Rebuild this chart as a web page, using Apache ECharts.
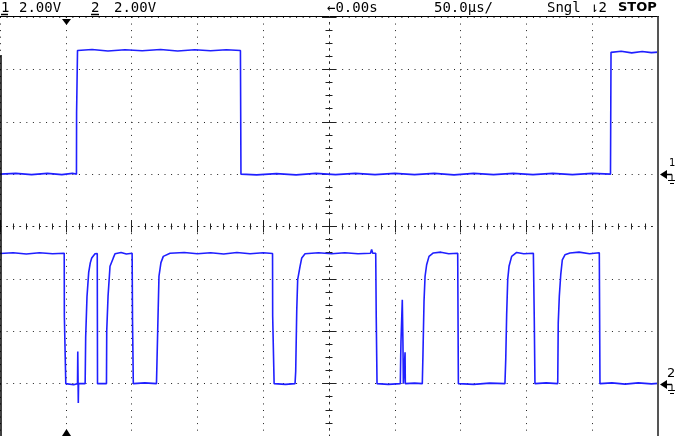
<!DOCTYPE html>
<html>
<head>
<meta charset="utf-8">
<script src="https://cdn.jsdelivr.net/npm/echarts@6/dist/echarts.min.js"></script>
<style>
html,body{margin:0;padding:0;background:#fff;}
#c{width:675px;height:436px;}
</style>
</head>
<body>
<div id="c"></div>
<script>
// Time in microseconds (50 us/div, 10 div), volts (2 V/div, 8 div)
const xMin = -250, xMax = 250, xStep = 50;
const yMin = -8, yMax = 8, yStep = 2;
const ch1Offset = 2;   // channel 1 ground marker (+1 div)
const ch2Offset = -6;  // channel 2 ground marker (-3 div)

const headerCh1 = "1", headerCh1Scale = "2.00V";
const headerCh2 = "2", headerCh2Scale = "2.00V";
const headerDelay = "\u21900.00s";
const headerTime = "50.0\u00b5s/";
const headerMode = "Sngl";
const headerTrig = "\u21c22";
const headerRun = "STOP";

// Channel 1 [time us, volts]
const ch1 = [
  [-250, 0.0], [-238, 0.03], [-226, -0.02], [-214, 0.03], [-203, -0.02], [-195, 0.03],
  [-191.9, 0.0], [-191.8, 2.35], [-191.2, 2.35], [-191.1, 4.72],
  [-180, 4.76], [-168, 4.7], [-155, 4.75], [-142, 4.71], [-128, 4.76], [-115, 4.7],
  [-102, 4.75], [-90, 4.71], [-78, 4.75], [-67.3, 4.72],
  [-66.9, 0.0], [-55, -0.03], [-40, 0.02], [-25, -0.03], [-10, 0.03], [5, -0.02],
  [20, 0.03], [35, -0.02], [50, 0.03], [65, -0.02], [80, 0.03], [95, -0.03],
  [110, 0.03], [125, -0.02], [140, 0.03], [155, -0.02], [170, 0.03], [185, -0.02],
  [200, 0.03], [213.9, 0.0],
  [214.3, 4.65], [222, 4.69], [230, 4.63], [238, 4.68], [245, 4.64], [250, 4.66]
];

// Channel 2 [time us, volts]
const ch2 = [
  [-250, 4.97], [-240, 5.0], [-230, 4.95], [-220, 5.0], [-210, 4.96], [-201.2, 4.98],
  [-201.1, 2.57], [-200.1, 2.57], [-200.0, 0.0],
  [-194, -0.04], [-191.1, 0.0], [-190.9, 1.23], [-190.5, -0.74], [-190.3, 0.0],
  [-185.3, 0.0], [-184.9, 1.76], [-183.9, 3.32], [-182.6, 4.25], [-181.4, 4.61],
  [-180.3, 4.8], [-177.8, 4.96], [-176.5, 5.01], [-176.1, 4.97],
  [-175.9, 0.0], [-169.1, 0.0],
  [-168.9, 2.0], [-167.9, 3.33], [-166.4, 4.48], [-163.9, 4.8], [-162.6, 4.96],
  [-158, 5.01], [-154, 4.95], [-149.6, 4.98],
  [-149.3, 2.4], [-148.7, 0.0], [-140, 0.03], [-131.1, 0.0],
  [-130.2, 1.95], [-129.2, 4.1], [-127.7, 4.62], [-125.9, 4.86], [-120.8, 4.98],
  [-110, 5.01], [-100, 4.96], [-90, 5.0], [-80, 4.95], [-70, 5.01], [-60, 4.96],
  [-50, 5.0], [-42.9, 4.97],
  [-42.8, 2.57], [-41.8, 2.57], [-41.7, 0.0], [-33, -0.03], [-25.8, 0.0],
  [-25.3, 0.47], [-24.5, 2.82], [-23.8, 3.97], [-22.0, 4.48], [-20.7, 4.8], [-18.2, 4.96],
  [-8, 5.0], [2, 4.96], [12, 5.0], [22, 4.96], [31.5, 4.98], [32.4, 5.12], [33.2, 4.98],
  [35.5, 4.98], [35.9, 2.52], [36.5, 0.0],
  [45, -0.03], [54.2, 0.0], [54.5, 1.07], [54.7, 1.6], [55.7, 3.2], [56.2, 1.5], [56.5, 0.0],
  [57.5, 0.0], [57.8, 1.2], [58.0, 0.0], [65, 0.02], [70.9, 0.0],
  [71.4, 1.11], [72.2, 3.14], [73.0, 4.1], [74.2, 4.54], [76.0, 4.86], [79.3, 4.99],
  [85, 5.02], [91, 4.96], [97.8, 4.98],
  [98.3, 0.0], [110, -0.03], [122, 0.02], [133.7, 0.0],
  [134.3, 0.92], [135.0, 2.63], [135.8, 3.97], [136.8, 4.48], [138.8, 4.86], [142.6, 5.01],
  [148, 4.96], [155.3, 4.98],
  [156.0, 2.38], [156.5, 0.0], [165, 0.03], [173.8, 0.0],
  [174.2, 2.32], [175.0, 3.33], [176.1, 4.16], [177.3, 4.73], [179.3, 4.92], [183.1, 4.99],
  [190, 5.02], [198, 4.96], [205.4, 5.0],
  [205.9, 0.0], [215, 0.03], [225, -0.02], [235, 0.03], [245, -0.01], [250, 0.01]
];

const traceColor = '#1f1fff';
const gridColor = '#222';

const chart = echarts.init(document.getElementById('c'), null, {renderer: 'canvas'});

function centerAxisCommon() {
  return {
    type: 'value', min: xMin, max: xMax, interval: xStep,
    axisLabel: {show: false},
    splitLine: {show: false}
  };
}

const option = {
  animation: false,
  backgroundColor: '#ffffff',
  grid: {left: 0, top: 17, width: 658, height: 419, show: false},
  xAxis: [
    Object.assign(centerAxisCommon(), {
      position: 'bottom',
      axisLine: {show: true, onZero: true, onZeroAxisIndex: 0,
        lineStyle: {color: gridColor, width: 1, type: [1, 5.58]}},
      axisTick: {show: true, inside: true, length: 6, lineStyle: {color: '#222', width: 1}},
      minorTick: {show: true, splitNumber: 5, length: 3, lineStyle: {color: '#222', width: 1}},
      splitLine: {show: true, lineStyle: {color: gridColor, width: 1, type: [1, 5.55]}}
    }),
    Object.assign(centerAxisCommon(), {
      position: 'top',
      axisLine: {show: false, onZero: true, onZeroAxisIndex: 0},
      axisTick: {show: true, inside: true, length: 6, lineStyle: {color: '#222', width: 1}},
      minorTick: {show: true, splitNumber: 5, length: 3, lineStyle: {color: '#222', width: 1}}
    })
  ],
  yAxis: [
    {
      type: 'value', min: yMin, max: yMax, interval: yStep, position: 'left',
      axisLabel: {show: false},
      axisLine: {show: true, onZero: true, onZeroAxisIndex: 0,
        lineStyle: {color: gridColor, width: 1, type: [1, 5.55]}},
      axisTick: {show: true, inside: true, length: 7, lineStyle: {color: '#222', width: 1}},
      minorTick: {show: true, splitNumber: 4, length: 3.5, lineStyle: {color: '#222', width: 1}},
      splitLine: {show: true, lineStyle: {color: gridColor, width: 1, type: [1, 5.58]}}
    },
    {
      type: 'value', min: yMin, max: yMax, interval: yStep, position: 'right',
      axisLabel: {show: false},
      axisLine: {show: false, onZero: true, onZeroAxisIndex: 0},
      axisTick: {show: true, inside: true, length: 7, lineStyle: {color: '#222', width: 1}},
      minorTick: {show: true, splitNumber: 4, length: 3.5, lineStyle: {color: '#222', width: 1}},
      splitLine: {show: false}
    }
  ],
  series: [
    {
      name: 'CH1', type: 'line', xAxisIndex: 0, yAxisIndex: 0,
      data: ch1.map(p => [p[0], p[1] + ch1Offset]),
      showSymbol: false, symbol: 'none',
      lineStyle: {color: traceColor, width: 1.6}, z: 5
    },
    {
      name: 'CH2', type: 'line', xAxisIndex: 0, yAxisIndex: 0,
      data: ch2.map(p => [p[0], p[1] + ch2Offset]),
      showSymbol: false, symbol: 'none',
      lineStyle: {color: traceColor, width: 1.6}, z: 5
    }
  ],
  graphic: [
    // header underline and screen borders
    {type: 'line', shape: {x1: 0, y1: 16.5, x2: 659, y2: 16.5}, style: {stroke: '#000', lineWidth: 1}, z: 10},
    {type: 'line', shape: {x1: 658, y1: 16.5, x2: 658, y2: 436}, style: {stroke: '#555', lineWidth: 2}, z: 10},
    {type: 'line', shape: {x1: 1, y1: 55, x2: 1, y2: 436}, style: {stroke: '#000', lineWidth: 1.5}, z: 10},
    // trigger position markers
    {type: 'polygon', shape: {points: [[62, 19], [71, 19], [66.5, 25]]}, style: {fill: '#000'}, z: 10},
    {type: 'polygon', shape: {points: [[62, 436], [71, 436], [66.5, 429]]}, style: {fill: '#000'}, z: 10},
    // channel ground markers (right side)
    {type: 'polygon', shape: {points: [[660, 174.5], [667, 170], [667, 179]]}, style: {fill: '#000'}, z: 10},
    {type: 'line', shape: {x1: 666, y1: 174.5, x2: 672, y2: 174.5}, style: {stroke: '#000', lineWidth: 1.5}, z: 10},
    {type: 'line', shape: {x1: 672, y1: 174.5, x2: 672, y2: 180}, style: {stroke: '#000', lineWidth: 1}, z: 10},
    {type: 'line', shape: {x1: 668, y1: 180.5, x2: 676, y2: 180.5}, style: {stroke: '#000', lineWidth: 1}, z: 10},
    {type: 'line', shape: {x1: 670, y1: 183.5, x2: 674, y2: 183.5}, style: {stroke: '#000', lineWidth: 1}, z: 10},
    {type: 'text', style: {text: '1', x: 669, y: 163, font: '10px "DejaVu Sans"', fill: '#000', align: 'left', verticalAlign: 'middle'}, z: 10},
    {type: 'polygon', shape: {points: [[660, 384.5], [667, 380], [667, 389]]}, style: {fill: '#000'}, z: 10},
    {type: 'line', shape: {x1: 666, y1: 384.5, x2: 672, y2: 384.5}, style: {stroke: '#000', lineWidth: 1.5}, z: 10},
    {type: 'line', shape: {x1: 672, y1: 384.5, x2: 672, y2: 390}, style: {stroke: '#000', lineWidth: 1}, z: 10},
    {type: 'line', shape: {x1: 668, y1: 390.5, x2: 676, y2: 390.5}, style: {stroke: '#000', lineWidth: 1}, z: 10},
    {type: 'line', shape: {x1: 670, y1: 393.5, x2: 674, y2: 393.5}, style: {stroke: '#000', lineWidth: 1}, z: 10},
    {type: 'text', style: {text: '2', x: 667, y: 374, font: '13px "DejaVu Sans"', fill: '#000', align: 'left', verticalAlign: 'middle'}, z: 10},
    // header texts
    {type: 'text', style: {text: headerCh1, x: 1, y: 8, font: '14px "DejaVu Sans Mono"', fill: '#000', verticalAlign: 'middle'}, z: 10},
    {type: 'line', shape: {x1: 1, y1: 14.5, x2: 8, y2: 14.5}, style: {stroke: '#000', lineWidth: 1.5}, z: 10},
    {type: 'text', style: {text: headerCh1Scale, x: 19, y: 8, font: '14px "DejaVu Sans Mono"', fill: '#000', verticalAlign: 'middle'}, z: 10},
    {type: 'text', style: {text: headerCh2, x: 91, y: 8, font: '14px "DejaVu Sans Mono"', fill: '#000', verticalAlign: 'middle'}, z: 10},
    {type: 'line', shape: {x1: 91, y1: 14.5, x2: 99, y2: 14.5}, style: {stroke: '#000', lineWidth: 1.5}, z: 10},
    {type: 'text', style: {text: headerCh2Scale, x: 114, y: 8, font: '14px "DejaVu Sans Mono"', fill: '#000', verticalAlign: 'middle'}, z: 10},
    {type: 'text', style: {text: headerDelay, x: 327, y: 8, font: '14px "DejaVu Sans Mono"', fill: '#000', verticalAlign: 'middle'}, z: 10},
    {type: 'text', style: {text: headerTime, x: 434, y: 8, font: '14px "DejaVu Sans Mono"', fill: '#000', verticalAlign: 'middle'}, z: 10},
    {type: 'text', style: {text: headerMode, x: 547, y: 8, font: '14px "DejaVu Sans Mono"', fill: '#000', verticalAlign: 'middle'}, z: 10},
    {type: 'text', style: {text: headerTrig, x: 590, y: 8, font: '14px "DejaVu Sans Mono"', fill: '#000', verticalAlign: 'middle'}, z: 10},
    {type: 'text', style: {text: headerRun, x: 618, y: 8, font: 'bold 13px "DejaVu Sans"', fill: '#000', verticalAlign: 'middle'}, z: 10}
  ]
};

chart.setOption(option);
</script>
</body>
</html>
